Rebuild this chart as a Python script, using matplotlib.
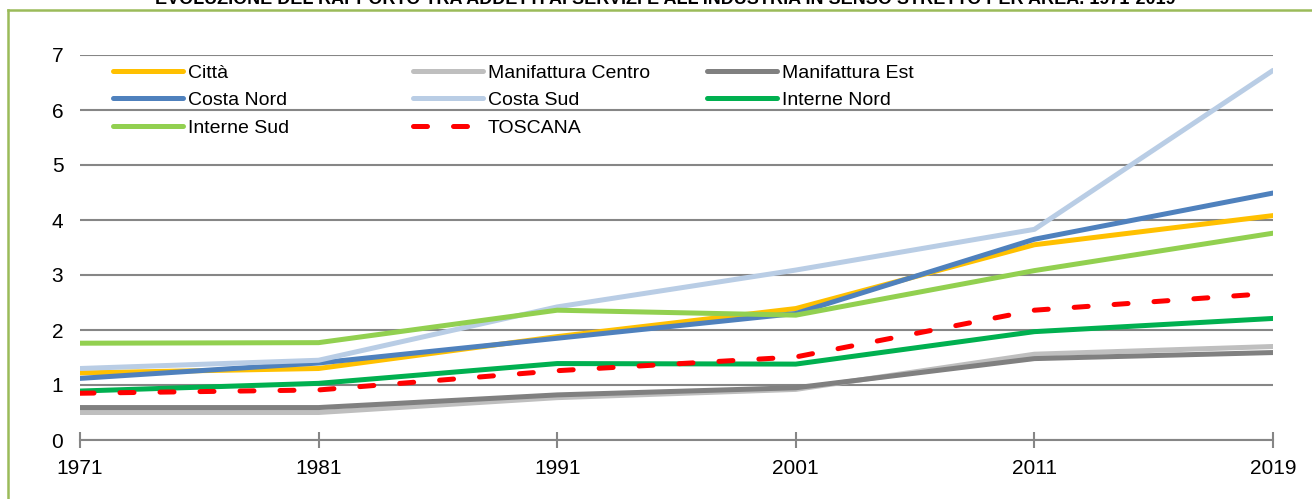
import matplotlib
matplotlib.use("Agg")
import matplotlib.pyplot as plt
from matplotlib.legend import Legend

# data
years = ["1971", "1981", "1991", "2001", "2011", "2019"]
citta = [1.22, 1.30, 1.88, 2.39, 3.55, 4.08]
manif_centro = [0.50, 0.50, 0.77, 0.92, 1.56, 1.70]
manif_est = [0.59, 0.59, 0.82, 0.95, 1.48, 1.59]
costa_nord = [1.12, 1.40, 1.85, 2.30, 3.65, 4.49]
costa_sud = [1.30, 1.45, 2.42, 3.09, 3.83, 6.72]
interne_nord = [0.89, 1.03, 1.39, 1.38, 1.97, 2.21]
interne_sud = [1.76, 1.77, 2.36, 2.27, 3.08, 3.76]
toscana = [0.85, 0.91, 1.26, 1.51, 2.36, 2.67]

title = "EVOLUZIONE DEL RAPPORTO TRA ADDETTI AI SERVIZI E ALL'INDUSTRIA IN SENSO STRETTO PER AREA. 1971-2019"

plt.rcParams["font.family"] = ["Liberation Sans", "DejaVu Sans"]

fig = plt.figure(figsize=(13.12, 4.99), dpi=100)
ax = fig.add_axes([80 / 1312, 1 - 440 / 499, (1273 - 80) / 1312, (440 - 55) / 499])

x = list(range(len(years)))
series = [
    ("Città", citta, "#FFC000"),
    ("Manifattura Centro", manif_centro, "#BFBFBF"),
    ("Manifattura Est", manif_est, "#808080"),
    ("Costa Nord", costa_nord, "#4F81BD"),
    ("Costa Sud", costa_sud, "#B9CDE5"),
    ("Interne Nord", interne_nord, "#00B050"),
    ("Interne Sud", interne_sud, "#92D050"),
]
handles = {}
for name, vals, col in series:
    (ln,) = ax.plot(x, vals, color=col, lw=3.6, solid_capstyle="round",
                    solid_joinstyle="round", label=name, zorder=3)
    handles[name] = ln
(ln,) = ax.plot(x, toscana, color="#FF0000", lw=3.6, dashes=(2.8, 5.2),
                dash_capstyle="round", label="TOSCANA", zorder=3)
handles["TOSCANA"] = ln

ax.set_xlim(0, len(years) - 1)
ax.set_ylim(0, 7)
ax.set_yticks(range(0, 8))
ax.set_xticks(x)
ax.set_xticklabels(years)
ax.grid(axis="y", color="#868686", lw=1.5, zorder=1)
ax.set_axisbelow(True)
for s in ["top", "right", "left"]:
    ax.spines[s].set_visible(False)
ax.spines["bottom"].set_color("#868686")
ax.spines["bottom"].set_linewidth(1.5)
ax.spines["bottom"].set_zorder(1)
ax.tick_params(axis="y", length=0, pad=12, labelsize=15)
ax.tick_params(axis="x", direction="inout", length=12, width=1.5, color="#868686",
               pad=8, labelsize=15)

# legend in three evenly spaced columns, like the spreadsheet original
cols = [["Città", "Costa Nord", "Interne Sud"],
        ["Manifattura Centro", "Costa Sud", "TOSCANA"],
        ["Manifattura Est", "Interne Nord"]]
col_x = [0.0277, 0.279, 0.5256]
for names, cx in zip(cols, col_x):
    leg = Legend(ax, [handles[n] for n in names], names, loc="upper left",
                 bbox_to_anchor=(cx, 0.976), frameon=False, fontsize=14,
                 handlelength=3.6, handletextpad=0.25, labelspacing=0.5,
                 borderpad=0, borderaxespad=0)
    ax.add_artist(leg)

# green frame of the source document
fig.add_artist(plt.Line2D([8 / 1312, 8 / 1312], [0, 1 - 10 / 499], color="#9BBB59",
                          lw=1.8, transform=fig.transFigure))
fig.add_artist(plt.Line2D([8 / 1312, 1], [1 - 10 / 499, 1 - 10 / 499], color="#9BBB59",
                          lw=1.8, transform=fig.transFigure))
fig.text(665 / 1312, 1 - 4 / 499, title, ha="center", va="baseline", fontsize=13,
         fontweight="bold")

fig.savefig("out.png", dpi=100)
